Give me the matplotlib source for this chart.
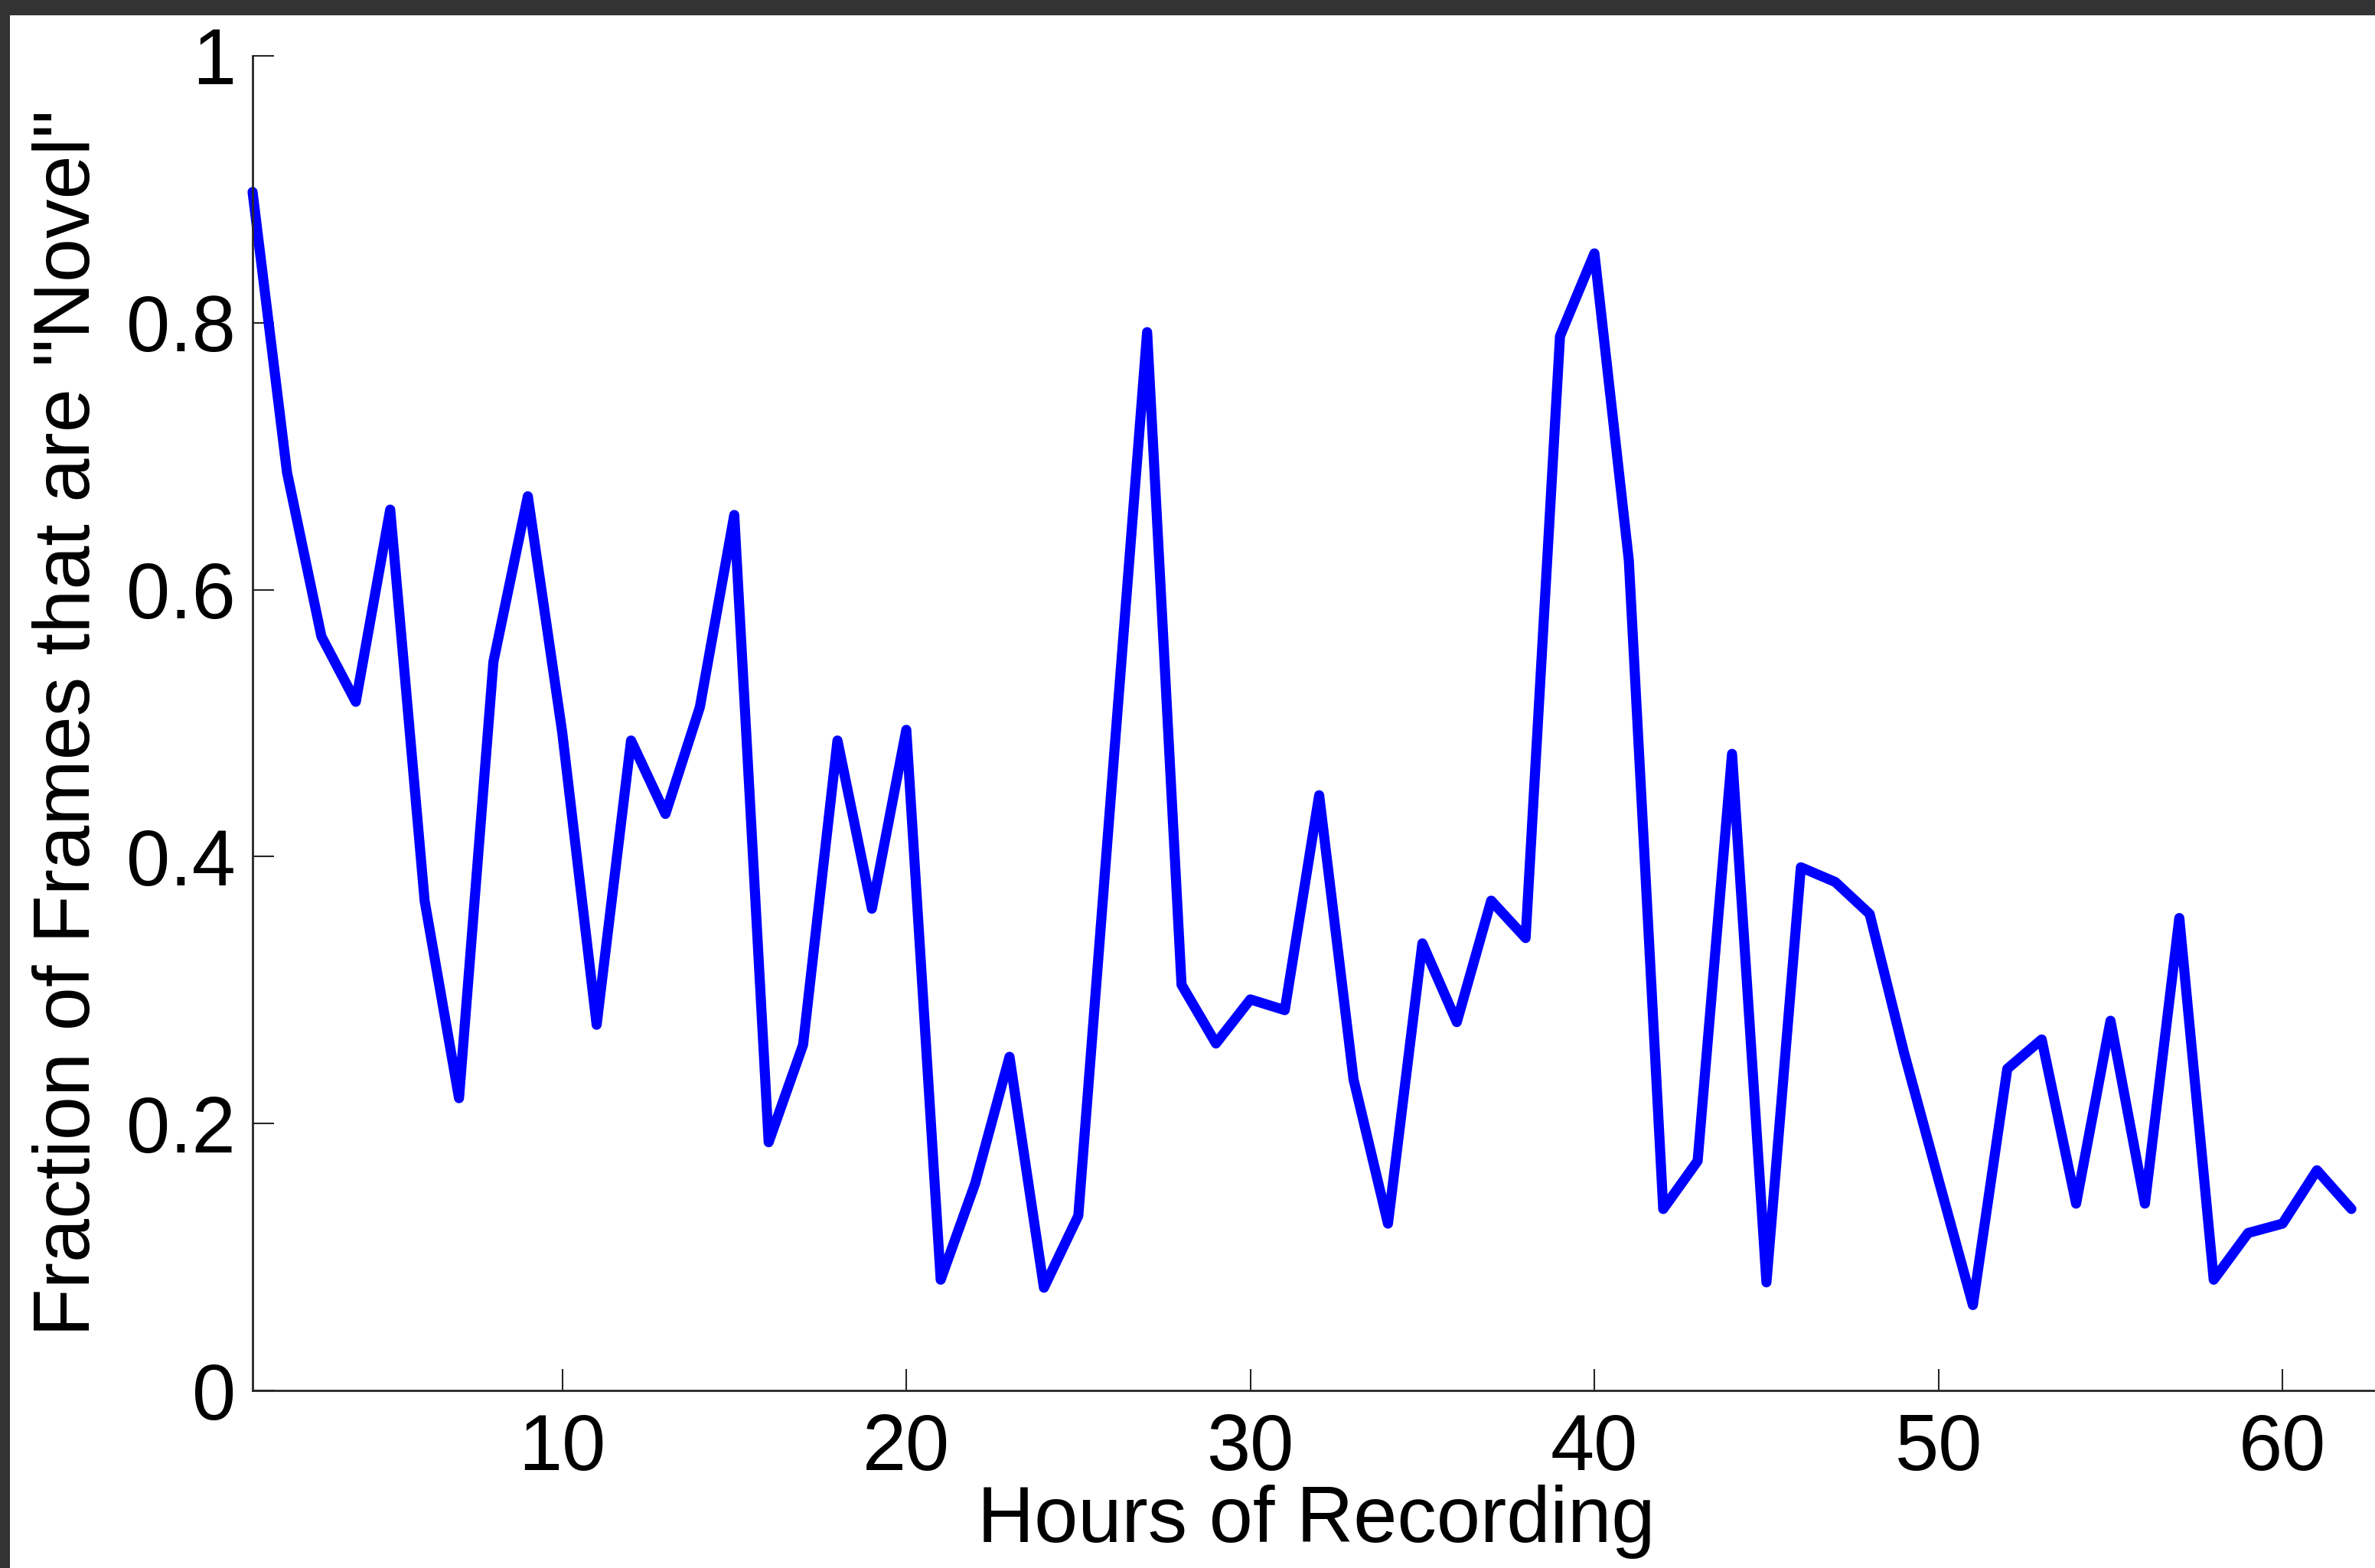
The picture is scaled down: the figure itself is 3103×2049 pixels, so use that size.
#!/usr/bin/env python3
"""Fraction of novel frames per hour of recording."""

import matplotlib
matplotlib.use("Agg")
import matplotlib.pyplot as plt
from matplotlib.patches import Rectangle

hours = list(range(1, 63))
novel_fraction = [
    0.898, 0.688, 0.565, 0.516, 0.660, 0.367, 0.219, 0.546, 0.670, 0.493,
    0.274, 0.487, 0.432, 0.512, 0.656, 0.186, 0.259, 0.487, 0.361, 0.495,
    0.083, 0.155, 0.250, 0.077, 0.131, 0.463, 0.793, 0.304, 0.260, 0.293,
    0.285, 0.446, 0.233, 0.125, 0.335, 0.276, 0.367, 0.339, 0.790, 0.852,
    0.622, 0.136, 0.172, 0.477, 0.081, 0.392, 0.381, 0.357, 0.253, 0.158,
    0.064, 0.241, 0.263, 0.140, 0.277, 0.140, 0.354, 0.083, 0.118, 0.125,
    0.165, 0.136,
]
x_ticks = [10, 20, 30, 40, 50, 60]
y_ticks = [0, 0.2, 0.4, 0.6, 0.8, 1]
y_tick_labels = ["0", "0.2", "0.4", "0.6", "0.8", "1"]

plt.rcParams["font.family"] = ["Liberation Sans", "DejaVu Sans"]

W, H = 3103, 2049
fig = plt.figure(figsize=(W / 100, H / 100), dpi=100)
fig.patch.set_facecolor("white")

# axes box in pixels: left spine at x=330, bottom at y=1817, top at y=73
left, right, top, bottom = 330, 3162, 73, 1817
ax = fig.add_axes([left / W, 1 - bottom / H, (right - left) / W, (bottom - top) / H])

ax.plot(hours, novel_fraction, color="#0000ff", linewidth=9.5,
        solid_joinstyle="round", solid_capstyle="round", clip_on=False)

ax.set_xlim(1, 64)
ax.set_ylim(0, 1)
ax.set_xticks(x_ticks)
ax.set_yticks(y_ticks)
ax.set_yticklabels(y_tick_labels)

for side in ("top", "right"):
    ax.spines[side].set_visible(False)
for side in ("left", "bottom"):
    ax.spines[side].set_linewidth(2)
    ax.spines[side].set_color("#262626")

ax.tick_params(direction="in", length=20, width=1.5, color="#262626",
               labelsize=74, labelcolor="black")
ax.tick_params(axis="x", pad=21)
ax.tick_params(axis="y", pad=16)

ax.set_xlabel("Hours of Recording", fontsize=74)
ax.xaxis.set_label_coords(0.4908, -0.0705)
ax.set_ylabel('Fraction of Frames that are "Novel"', fontsize=74)
ax.yaxis.set_label_coords(-0.0674, 0.5)

# dark frame of the screenshot along the top and left edges
fig.add_artist(Rectangle((0, 1 - 20 / H), 1, 20 / H, transform=fig.transFigure,
                         facecolor="#333333", edgecolor="none", zorder=10))
fig.add_artist(Rectangle((0, 0), 13 / W, 1, transform=fig.transFigure,
                         facecolor="#333333", edgecolor="none", zorder=10))

fig.savefig("out.png", dpi=100)
plt.close(fig)
